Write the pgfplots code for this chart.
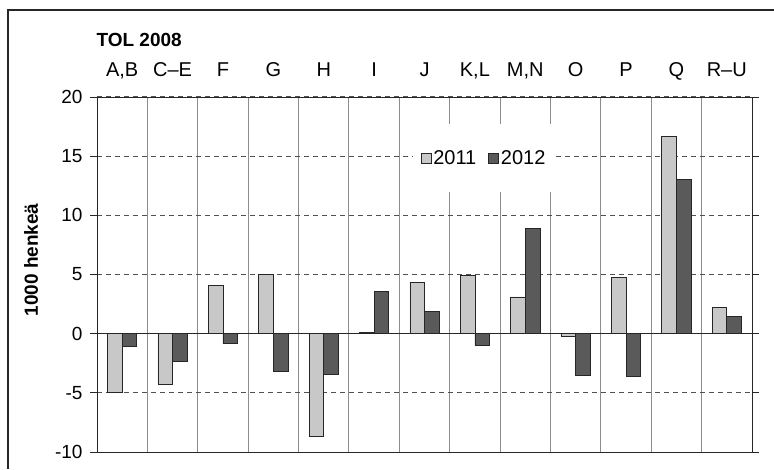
\documentclass[border=0pt]{standalone}
\usepackage{fontspec}
\setmainfont{Liberation Sans}
\usepackage{pgfplots}
\pgfplotsset{compat=1.18}

\definecolor{light}{HTML}{C8C8C8}
\definecolor{dark}{HTML}{5A5A5A}
\definecolor{edge}{HTML}{262626}
\definecolor{gridc}{HTML}{505050}
\definecolor{sepc}{HTML}{8C8C8C}

\begin{document}
\begin{tikzpicture}
\path[use as bounding box] (-97pt,-17pt) rectangle (677pt,452pt);
% outer chart frame (only left and top edges are in view)
\draw[edge, line width=1.3pt] (-89pt,-17pt) -- (-89pt,442pt) -- (677pt,442pt);

\begin{axis}[
    scale only axis,
    width=655pt, height=355pt,
    xmin=-0.5, xmax=12.5,
    ymin=-10, ymax=20,
    ybar=0pt,
    bar width=0.29,
    xtick={0,...,12},
    xticklabels={A{,}B, C--E, F, G, H, I, J, K{,}L, M{,}N, O, P, Q, R--U},
    xticklabel pos=right,
    x tick style={draw=none},
    xticklabel style={font=\fontsize{20}{20}\selectfont, anchor=base, yshift=14pt},
    minor xtick={0.5,1.5,...,11.5},
    minor x grid style={sepc, line width=1pt},
    xminorgrids=true,
    ytick={-5,5,10,15,20},
    extra y ticks={-10,0},
    extra y tick style={ymajorgrids=true, major grid style={edge, line width=0.9pt, solid}},
    ymajorgrids=true,
    major grid style={gridc, line width=1.1pt, dash pattern=on 5pt off 4pt},
    y tick style={edge, line width=0.8pt},
    tick align=outside,
    major tick length=7pt,
    yticklabel style={font=\fontsize{19}{19}\selectfont, xshift=-4pt},
    /pgf/number format/assume math mode=true,
    axis line style={edge, line width=0.9pt},
    legend style={at={(0.591,0.828)}, anchor=center, draw=none, fill=white,
        legend columns=2, inner xsep=8pt, inner ysep=24pt,
        font=\fontsize{20}{20}\selectfont,
        /tikz/every even column/.append style={column sep=10pt}},
    legend image code/.code={\draw[#1, draw=edge, line width=0.6pt] (0pt,-5pt) rectangle (10pt,5pt);},
]

\addplot[fill=light, draw=edge, line width=0.7pt] coordinates {
    (0,-5.0) (1,-4.25) (2,4.1) (3,5.0) (4,-8.65) (5,0.1) (6,4.35)
    (7,4.9) (8,3.1) (9,-0.2) (10,4.75) (11,16.7) (12,2.25)
};
\addlegendentry{2011}

\addplot[fill=dark, draw=edge, line width=0.7pt] coordinates {
    (0,-1.1) (1,-2.35) (2,-0.85) (3,-3.2) (4,-3.45) (5,3.55) (6,1.9)
    (7,-1.0) (8,8.9) (9,-3.5) (10,-3.6) (11,13.05) (12,1.45)
};
\addlegendentry{2012}

\end{axis}

\node[anchor=base west, font=\bfseries\fontsize{19}{19}\selectfont] at (-4pt,405pt) {TOL 2008};
\node[rotate=90, font=\bfseries\fontsize{19}{19}\selectfont] at (-66pt,192pt) {1000 henkeä};
\end{tikzpicture}
\end{document}
